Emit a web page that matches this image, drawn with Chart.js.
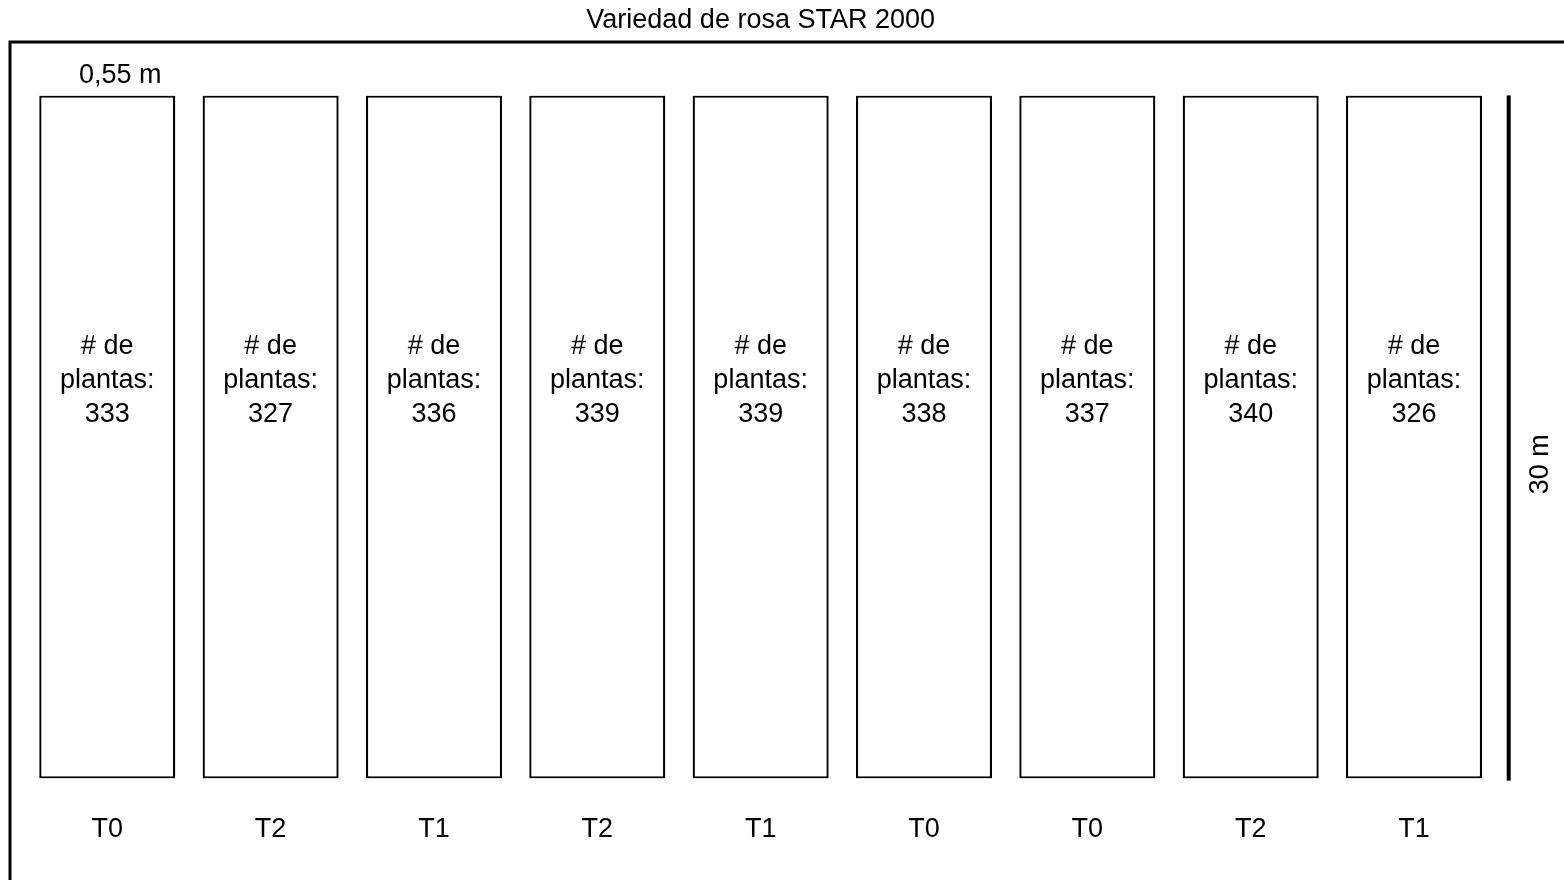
<!DOCTYPE html>
<html>
<head>
<meta charset="utf-8">
<title>Variedad de rosa STAR 2000</title>
<script src="https://cdn.jsdelivr.net/npm/chart.js@4/dist/chart.umd.min.js"></script>
<style>
  html, body { margin: 0; padding: 0; background: #fff; }
  #wrap { width: 1564px; height: 880px; position: relative; }
</style>
</head>
<body>
<div id="wrap"><canvas id="plano"></canvas></div>
<script>
// ========== DATOS ==========
const beds = ["T0", "T2", "T1", "T2", "T1", "T0", "T0", "T2", "T1"];
const plantCounts = [333, 327, 336, 339, 339, 338, 337, 340, 326];
const bedLength = 30; // metros
const bedWidthLabel = "0,55 m";
const lengthLabel = "30 m";
const titleText = "Variedad de rosa STAR 2000";

const FONT = "'Liberation Sans', Arial, sans-serif";
Chart.defaults.font.family = FONT;
Chart.defaults.color = "#000";

// ========== ANOTACIONES ==========
const planoPlugin = {
  id: "plano",
  beforeDraw(chart) {
    const ctx = chart.ctx;
    // marco exterior (cortado a la derecha y abajo)
    ctx.save();
    ctx.strokeStyle = "#000";
    ctx.lineWidth = 3;
    ctx.beginPath();
    ctx.moveTo(10, chart.height);
    ctx.lineTo(10, 42);
    ctx.lineTo(chart.width, 42);
    ctx.stroke();
    ctx.restore();
  },
  afterDatasetsDraw(chart) {
    const ctx = chart.ctx;
    const y = chart.scales.y;
    const bars = chart.getDatasetMeta(0).data;
    ctx.save();
    ctx.fillStyle = "#000";
    ctx.textAlign = "center";
    ctx.textBaseline = "middle";
    ctx.font = "27px " + FONT;

    // texto de cada cama
    const yMid = y.getPixelForValue(bedLength * 0.583);
    bars.forEach((bar, i) => {
      ctx.fillText("# de", bar.x, yMid - 34);
      ctx.fillText("plantas:", bar.x, yMid);
      ctx.fillText(String(plantCounts[i]), bar.x, yMid + 34);
    });

    // ancho de cama
    const top = y.getPixelForValue(bedLength);
    const bottom = y.getPixelForValue(0);
    ctx.fillText(bedWidthLabel, bars[0].x + 13, top - 20);

    // barra de escala 30 m
    const sx = chart.chartArea.right + 13;
    ctx.fillRect(sx - 2, top, 4, bottom - top + 2);
    ctx.translate(sx + 32, y.getPixelForValue(bedLength * 0.46));
    ctx.rotate(-Math.PI / 2);
    ctx.fillText(lengthLabel, 0, 0);
    ctx.restore();
  },
};

// ========== GRAFICO ==========
new Chart(document.getElementById("plano"), {
  type: "bar",
  data: {
    labels: beds,
    datasets: [
      {
        label: "Camas",
        data: beds.map(() => [0, bedLength]),
        backgroundColor: "#fff",
        borderColor: "#000",
        borderWidth: 2.3,
        borderSkipped: false,
        categoryPercentage: 1,
        barPercentage: 0.833,
      },
    ],
  },
  options: {
    responsive: true,
    maintainAspectRatio: false,
    animation: false,
    layout: { padding: { left: 25.6, right: 68.3, top: 0, bottom: 0 } },
    plugins: {
      legend: { display: false },
      tooltip: { enabled: false },
      title: {
        display: true,
        text: titleText,
        color: "#000",
        font: { size: 27, weight: "normal" },
        padding: { top: 4, bottom: 59 },
      },
    },
    scales: {
      x: {
        grid: { display: false, drawTicks: false },
        border: { display: false },
        ticks: { font: { size: 27 }, color: "#000", padding: 34.5 },
      },
      y: { display: false, min: 0, max: bedLength },
    },
  },
  plugins: [planoPlugin],
});
</script>
</body>
</html>
